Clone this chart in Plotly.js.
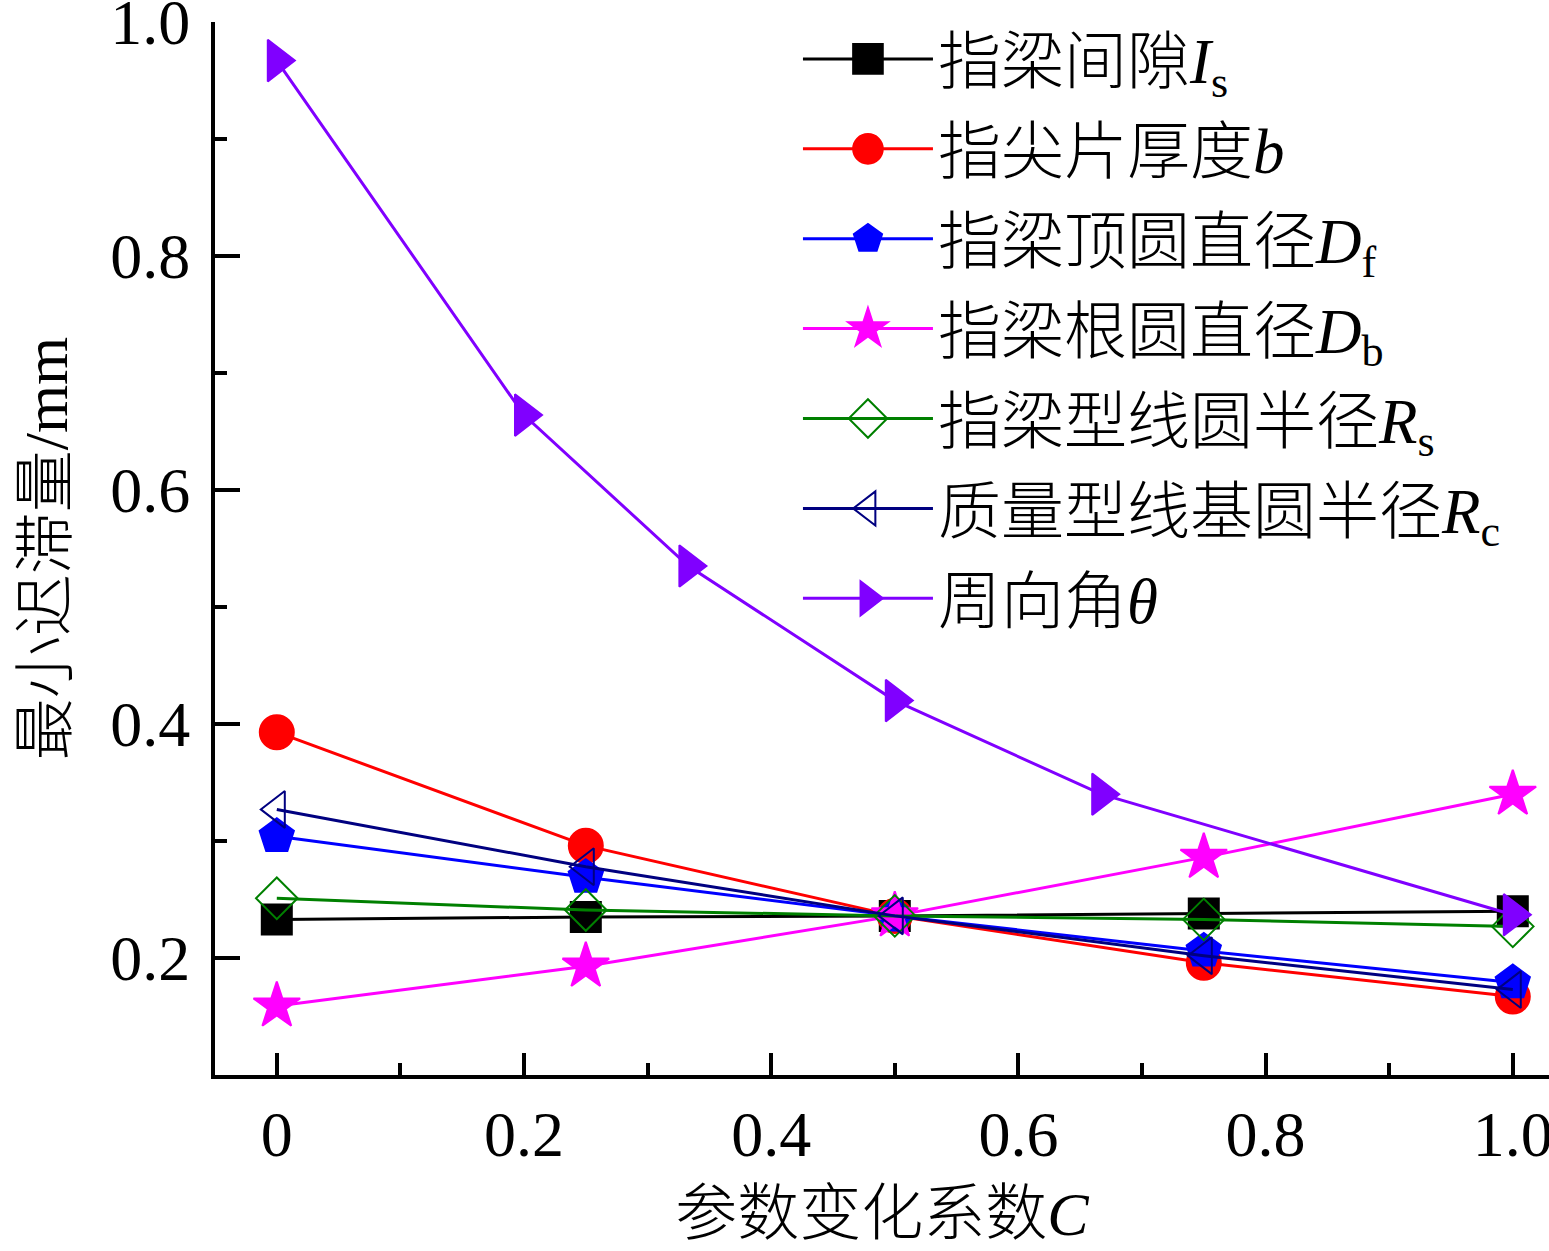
<!DOCTYPE html>
<html>
<head>
<meta charset="utf-8">
<script src="https://cdn.plot.ly/plotly-3.0.1.min.js"></script>
<style>
  html, body { margin: 0; padding: 0; background: #fff; }
  #chart { width: 1549px; height: 1251px; }
</style>
</head>
<body>
<div id="chart"></div>
<script>
// values
const xParams = [0, 0.25, 0.5, 0.75, 1.0];
const xTheta = [0, 0.2, 0.333, 0.5, 0.667, 1.0];

const yGap = [0.233, 0.235, 0.236, 0.238, 0.240];        // 指梁间隙 Is
const yThick = [0.393, 0.296, 0.236, 0.196, 0.167];      // 指尖片厚度 b
const yDf = [0.304, 0.269, 0.236, 0.206, 0.179];         // 指梁顶圆直径 Df
const yDb = [0.159, 0.193, 0.236, 0.286, 0.340];         // 指梁根圆直径 Db
const yRs = [0.251, 0.241, 0.236, 0.233, 0.227];         // 指梁型线圆半径 Rs
const yRc = [0.327, 0.278, 0.236, 0.202, 0.173];         // 质量型线基圆半径 Rc
const yTheta = [0.967, 0.664, 0.535, 0.420, 0.340, 0.237]; // 周向角 θ

const xTickVals = [0, 0.2, 0.4, 0.6, 0.8, 1.0];
const xTickText = ['0', '0.2', '0.4', '0.6', '0.8', '1.0'];

const seriesNames = [
    '指梁间隙<i>I</i><sub>s</sub>',
    '指尖片厚度<i>b</i>',
    '指梁顶圆直径<i>D</i><sub>f</sub>',
    '指梁根圆直径<i>D</i><sub>b</sub>',
    '指梁型线圆半径<i>R</i><sub>s</sub>',
    '质量型线基圆半径<i>R</i><sub>c</sub>',
    '周向角<i>θ</i>'
];

const FONT = 'Liberation Serif, "Times New Roman", "Noto Sans CJK SC", serif';

function makeTrace(x, y, name, color, symbol, size, idx) {
    return {
        x: x,
        y: y,
        name: name,
        legendgroup: 'g' + idx,
        type: 'scatter',
        mode: 'lines+markers',
        line: { color: color, width: 3 },
        marker: { symbol: symbol, size: size, color: color, line: { color: color, width: 2 } }
    };
}

var data = [
    makeTrace(xParams, yGap, seriesNames[0], '#000000', 'square', 30, 0),
    makeTrace(xParams, yThick, seriesNames[1], '#ff0000', 'circle', 34, 1),
    makeTrace(xParams, yDf, seriesNames[2], '#0000ff', 'pentagon', 36, 2),
    makeTrace(xParams, yDb, seriesNames[3], '#ff00ff', 'star', 35, 3),
    makeTrace(xParams, yRs, seriesNames[4], '#008000', 'diamond-open', 32, 4),
    makeTrace(xParams, yRc, seriesNames[5], '#000080', 'triangle-left-open', 32, 5),
    makeTrace(xTheta, yTheta, seriesNames[6], '#8000ff', 'triangle-right', 36, 6)
];

var layout = {
    width: 1549,
    height: 1251,
    margin: { l: 215, r: 0, t: 22, b: 176 },
    paper_bgcolor: '#ffffff',
    plot_bgcolor: '#ffffff',
    font: { family: FONT, size: 62, color: '#000000', weight: 300 },
    showlegend: true,
    legend: {
        x: 0.437,
        y: 1.01,
        xanchor: 'left',
        yanchor: 'top',
        bgcolor: 'rgba(0,0,0,0)',
        borderwidth: 0,
        itemwidth: 130,
        tracegroupgap: 5,
        maxheight: 1200,
        font: { family: FONT, size: 63, color: '#000000', weight: 300 }
    },
    xaxis: {
        range: [-0.05, 1.0293],
        tickmode: 'array',
        tickvals: xTickVals,
        ticktext: xTickText,
        ticks: 'inside',
        ticklen: 22,
        tickwidth: 4,
        tickcolor: '#000',
        minor: { dtick: 0.1, ticks: 'inside', ticklen: 12, tickwidth: 4, tickcolor: '#000' },
        showline: true,
        linecolor: '#000',
        linewidth: 4,
        showgrid: false,
        zeroline: false,
        ticklabelstandoff: 0,
        ticklabeloverflow: 'allow',
        tickfont: { family: FONT, size: 64 },
        title: { text: '参数变化系数<i>C</i>', font: { family: FONT, size: 62, weight: 300 }, standoff: 24 }
    },
    yaxis: {
        range: [0.1, 1.0],
        tickmode: 'linear',
        tick0: 0,
        dtick: 0.2,
        tickformat: '.1f',
        ticks: 'inside',
        ticklen: 25,
        tickwidth: 4,
        tickcolor: '#000',
        minor: { dtick: 0.1, ticks: 'inside', ticklen: 12, tickwidth: 4, tickcolor: '#000' },
        showline: true,
        linecolor: '#000',
        linewidth: 4,
        showgrid: false,
        zeroline: false,
        ticklabelstandoff: 8,
        ticklabeloverflow: 'allow',
        tickfont: { family: FONT, size: 64 },
        title: { text: '最小迟滞量/mm', font: { family: FONT, size: 62, weight: 300 }, standoff: 24 }
    }
};

var config = { displayModeBar: false, responsive: false };

Plotly.newPlot('chart', data, layout, config).then(function(gd) {
    // legend markers are capped at 16px by plotly, blow them up to match the plot markers
    gd.querySelectorAll('.legend .legendpoints path.scatterpts').forEach(function(p) {
        var t = p.getAttribute('transform') || '';
        p.setAttribute('transform', t + ' scale(1.85)');
        p.style.strokeWidth = '1.1px';
    });
    var bar = gd.querySelector('.legend .scrollbar');
    if (bar) bar.style.display = 'none';
});
</script>
</body>
</html>
